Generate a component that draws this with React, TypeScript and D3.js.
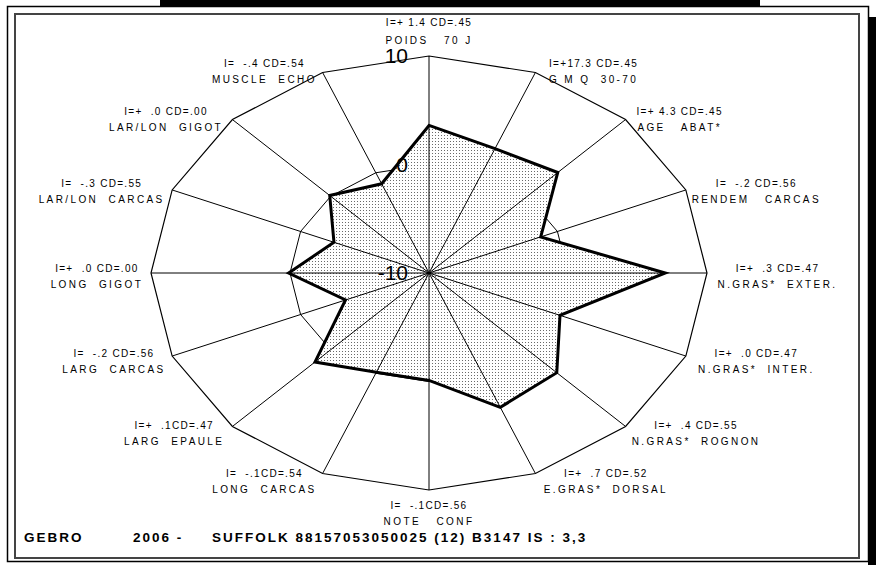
import React from 'react'
import * as d3 from 'd3'

// axis names, clockwise from the top
const traits = [
  'POIDS   70 J', 'G M Q  30-70', 'AGE   ABAT*', 'RENDEM   CARCAS',
  'N.GRAS*  EXTER.', 'N.GRAS*  INTER.', 'N.GRAS*  ROGNON', 'E.GRAS*  DORSAL',
  'NOTE   CONF', 'LONG  CARCAS', 'LARG  EPAULE', 'LARG  CARCAS',
  'LONG  GIGOT', 'LAR/LON  CARCAS', 'LAR/LON  GIGOT', 'MUSCLE  ECHO'
]
const stats = [
  'I=+ 1.4 CD=.45', 'I=+17.3 CD=.45', 'I=+ 4.3 CD=.45', 'I=  -.2 CD=.56',
  'I=+  .3 CD=.47', 'I=+  .0 CD=.47', 'I=+  .4 CD=.55', 'I=+  .7 CD=.52',
  'I=  -.1CD=.56', 'I=  -.1CD=.54', 'I=+  .1CD=.47', 'I=  -.2 CD=.56',
  'I=+  .0 CD=.00', 'I=  -.3 CD=.55', 'I=+  .0 CD=.00', 'I=  -.4 CD=.54'
]
const values = [3.6, 2.4, 3.1, -1.3, 7.0, 0.2, 3.0, 3.4, -0.1, -0.1, 1.6, -3.5, 0.1, -2.6, 0.1, -1.1]
const ringValues = [10, 0]
const tickLabels = ['10', '0', '-10']
const tickValues = [10, 0, -10]

const W = 876
const H = 565
const cx = 429
const cy = 273
const rx = 278
const ry = 217
const font = 'Liberation Sans, Arial, Helvetica, sans-serif'

const App = () => {
  const n = traits.length
  const r = d3.scaleLinear().domain([-10, 10]).range([0, 1])
  const angle = (i: number) => (i * 2 * Math.PI) / n

  const pt = (i: number, v: number): [number, number] => {
    const f = r(v)
    return [cx + rx * f * Math.sin(angle(i)), cy - ry * f * Math.cos(angle(i))]
  }

  const closed = d3.line().curve(d3.curveLinearClosed)
  const ring = (v: number) => closed(d3.range(n).map(i => pt(i, v))) || ''
  const dataPath = closed(values.map((v, i) => pt(i, v))) || ''

  // label block sits just beside its outer vertex, centred on its own width
  const labelPos = (i: number) => {
    const [vx, vy] = pt(i, 10)
    const s = Math.sin(angle(i))
    const c = Math.cos(angle(i))
    if (Math.abs(s) < 1e-6) {
      return c > 0 ? { x: vx, y1: vy - 34, y2: vy - 16 } : { x: vx, y1: vy + 15, y2: vy + 31 }
    }
    const half = (traits[i].length * 8.2) / 2
    const y1 = vy - 5 - 5 * c
    return { x: vx + Math.sign(s) * (9 + half), y1, y2: y1 + 16 }
  }

  return (
    <svg width={W} height={H} style={{ position: 'absolute', left: 0, top: 0, background: '#fff' }}>
      <defs>
        <pattern id="dots" width={3} height={3} patternUnits="userSpaceOnUse">
          <rect width={3} height={3} fill="#fff" />
          <rect width={1} height={1} fill="#6a6a6a" />
        </pattern>
      </defs>

      {/* frames */}
      <rect x={160} y={0} width={600} height={7} fill="#000" />
      <rect x={7.5} y={6.5} width={861} height={555} fill="none" stroke="#000" strokeWidth={1.5} />
      <rect x={15} y={14} width={844} height={544} fill="none" stroke="#444" strokeWidth={2} />
      <rect x={868} y={17} width={8} height={548} fill="#000" />

      {/* inner ring, under the fill */}
      <path d={ring(ringValues[1])} fill="none" stroke="#000" strokeWidth={1} />
      <path d={dataPath} fill="url(#dots)" stroke="none" />

      {/* spokes and outer ring */}
      {d3.range(n).map(i => {
        const [x, y] = pt(i, 10)
        return <line key={i} x1={cx} y1={cy} x2={x} y2={y} stroke="#000" strokeWidth={1} />
      })}
      <path d={ring(ringValues[0])} fill="none" stroke="#000" strokeWidth={1.2} />

      <path d={dataPath} fill="none" stroke="#000" strokeWidth={3} strokeLinejoin="miter" />

      {/* scale values */}
      {tickValues.map((v, i) => (
        <text key={v} x={408} y={pt(0, v)[1] + 7} textAnchor="end" fontFamily={font} fontSize={21} fill="#000">
          {tickLabels[i]}
        </text>
      ))}

      {/* axis labels */}
      {traits.map((t, i) => {
        const p = labelPos(i)
        return (
          <g key={t} fontFamily={font} fontSize={10} textAnchor="middle" fill="#000">
            <text x={p.x} y={p.y1 + 4} letterSpacing={1.3} xmlSpace="preserve">{stats[i]}</text>
            <text x={p.x} y={p.y2 + 4} letterSpacing={2.4} xmlSpace="preserve">{t}</text>
          </g>
        )
      })}

      {/* footer */}
      <g fontFamily={font} fontSize={13.5} fontWeight="bold" fill="#000" letterSpacing={2}>
        <text x={24} y={542}>GEBRO</text>
        <text x={133} y={542}>2006 -</text>
        <text x={212} y={542}>SUFFOLK 88157053050025 (12) B3147 IS : 3,3</text>
      </g>
    </svg>
  )
}

export default App
